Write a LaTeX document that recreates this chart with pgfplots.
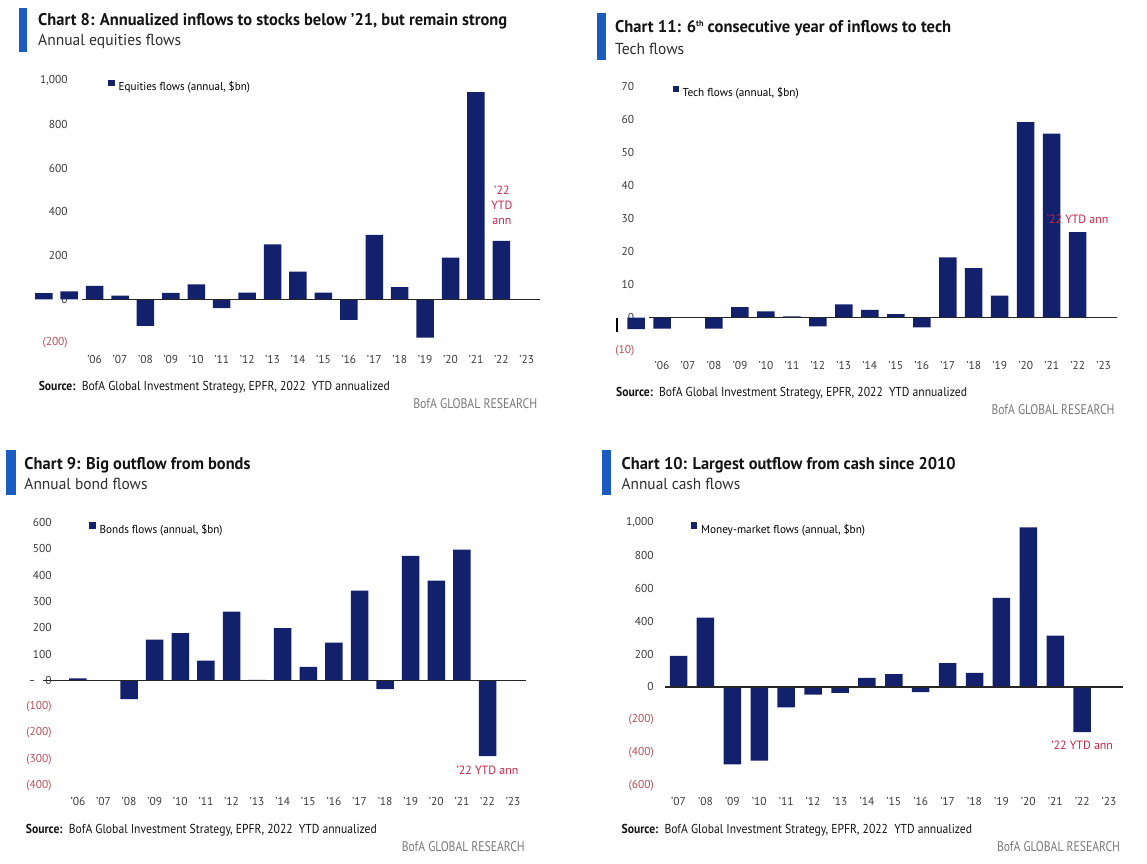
\documentclass[border=0pt]{standalone}
\usepackage{pgfplots}
\pgfplotsset{compat=1.18}
\usepackage{graphicx}
\usepackage{fontspec}
\setmainfont{PT Sans}
\definecolor{navy}{HTML}{13216C}
\definecolor{accent}{HTML}{1A5CC0}
\definecolor{negred}{HTML}{B5505C}
\definecolor{annred}{HTML}{C02848}
\definecolor{tickgray}{HTML}{3C3C3C}
\definecolor{titleblack}{HTML}{141414}
\definecolor{subgray}{HTML}{2E2E2E}
\definecolor{bofagray}{HTML}{7A7A7A}
\newcommand\fitw[2]{\resizebox{#1}{\height}{#2}}
\newcommand\negl[1]{\textcolor{negred}{#1}}
\pgfplotsset{
  bofa/.style={
    scale only axis, clip=false,
    axis x line*=bottom, axis y line*=left,
    axis line style={draw=none},
    major tick length=0pt,
    ticklabel style={font=\fontsize{11.5}{12}\selectfont, text=tickgray, inner sep=0pt},
    xticklabel style={anchor=center},
    yticklabel style={anchor=east},
    legend style={draw=none, fill=none, inner sep=0pt, anchor=west,
      column sep=4bp, nodes={inner sep=0pt}, font=\fontsize{11.5}{12}\selectfont},
    legend cell align=left,
  },
  navybar/.style={ybar, bar width=17.5bp, fill=navy, draw=none,
    legend image code/.code={\fill[navy] (0bp,0.6bp) rectangle (6.2bp,7.4bp);}},
}
\begin{document}
\begin{tikzpicture}[x=1bp,y=1bp]
\useasboundingbox (0,0) rectangle (1147,864);
\fill[white] (0,0) rectangle (1147,864);

% ---------------- Panel 1 (Chart 8) ----------------
\fill[accent] (19,812) rectangle (27,856);
\node[anchor=base west, inner sep=0, text=titleblack] at (38,838)
  {\fitw{469bp}{\fontsize{17}{17}\selectfont\bfseries Chart 8: Annualized inflows to stocks below ’21, but remain strong}};
\node[anchor=base west, inner sep=0, text=subgray] at (38,818)
  {\fitw{143bp}{\fontsize{16}{16}\selectfont Annual equities flows}};
\node[anchor=base west, inner sep=0, text=titleblack] at (38.6,473.3)
  {\fitw{351bp}{\fontsize{13}{13}\selectfont\textbf{Source:}\ \ BofA Global Investment Strategy, EPFR, 2022\ \ YTD annualized}};
\node[anchor=base east, inner sep=0, text=bofagray] at (537.5,455)
  {\fitw{124bp}{\fontsize{14}{14}\selectfont BofA GLOBAL RESEARCH}};

\begin{axis}[bofa, at={(81.9bp,521bp)}, anchor=south west,
  width=457.6bp, height=262.3bp,
  xmin=-0.5, xmax=17.5, ymin=-200, ymax=1000,
  xtick={0,...,17},
  xticklabels={’06,’07,’08,’09,’10,’11,’12,’13,’14,’15,’16,’17,’18,’19,’20,’21,’22,’23},
  ytick={-200,0,200,400,600,800,1000},
  yticklabels={\negl{(200)},0,200,400,600,800,{1,000}},
  xticklabel style={yshift=-16.3bp},
  yticklabel style={xshift=-14bp},
  legend style={at={(0.0575,0.980)}},
]
\addplot[navybar] coordinates {(-2,28) (-1,36) (0,61) (1,17) (2,-122) (3,29) (4,68) (5,-40) (6,30) (7,251) (8,126) (9,30) (10,-94) (11,295) (12,56) (13,-175) (14,190) (15,948) (16,267)};
\addlegendentry{\fitw{131.4bp}{Equities flows (annual, \$bn)}}
\draw[black!85, line width=1.3bp] (axis cs:-0.5,0) -- (axis cs:17.5,0);
\node[align=center, text=annred, font=\fontsize{12}{15.5}\selectfont] at (axis cs:16.02,430) {’22\\YTD\\ann};
\end{axis}

% ---------------- Panel 2 (Chart 11) ----------------
\fill[accent] (596.5,804) rectangle (606,851);
\node[anchor=base west, inner sep=0, text=titleblack] at (615,831)
  {\fitw{336bp}{\fontsize{17}{17}\selectfont\bfseries Chart 11: 6\raisebox{6bp}{\fontsize{8.5}{8.5}\selectfont th} consecutive year of inflows to tech}};
\node[anchor=base west, inner sep=0, text=subgray] at (615,809)
  {\fitw{69bp}{\fontsize{16}{16}\selectfont Tech flows}};
\node[anchor=base west, inner sep=0, text=titleblack] at (616,467)
  {\fitw{350.8bp}{\fontsize{13}{13}\selectfont\textbf{Source:}\ \ BofA Global Investment Strategy, EPFR, 2022\ \ YTD annualized}};
\node[anchor=base east, inner sep=0, text=bofagray] at (1114.7,449)
  {\fitw{123bp}{\fontsize{14}{14}\selectfont BofA GLOBAL RESEARCH}};

\begin{axis}[bofa, at={(649bp,513.3bp)}, anchor=south west,
  width=467.6bp, height=264bp,
  xmin=-0.5, xmax=17.5, ymin=-10, ymax=70,
  xtick={0,...,17},
  xticklabels={’06,’07,’08,’09,’10,’11,’12,’13,’14,’15,’16,’17,’18,’19,’20,’21,’22,’23},
  ytick={-10,0,10,20,30,40,50,60,70},
  yticklabels={\negl{(10)},0,10,20,30,40,50,60,70},
  xticklabel style={yshift=-15bp},
  yticklabel style={xshift=-14.6bp},
  legend style={at={(0.0498,0.980)}},
]
\addplot[navybar] coordinates {(-1,-3.5) (0,-3.3) (1,0) (2,-3.3) (3,3.2) (4,1.9) (5,0.4) (6,-2.6) (7,4.0) (8,2.4) (9,1.1) (10,-2.9) (11,18.3) (12,15.0) (13,6.7) (14,59.3) (15,55.8) (16,25.9)};
\addlegendentry{\fitw{116bp}{Tech flows (annual, \$bn)}}
\addplot[ybar, bar width=2bp, fill=black, draw=none, forget plot] coordinates {(-1.73,-4.3)};
\draw[black!85, line width=1.3bp] (axis cs:-0.5,0) -- (axis cs:17.5,0);
\node[text=annred, font=\fontsize{12}{12}\selectfont] at (axis cs:16,29.8) {’22 YTD ann};
\end{axis}

% ---------------- Panel 3 (Chart 9) ----------------
\fill[accent] (6.4,369) rectangle (16,414);
\node[anchor=base west, inner sep=0, text=titleblack] at (24.3,394.7)
  {\fitw{226bp}{\fontsize{17}{17}\selectfont\bfseries Chart 9: Big outflow from bonds}};
\node[anchor=base west, inner sep=0, text=subgray] at (24.3,374)
  {\fitw{123bp}{\fontsize{16}{16}\selectfont Annual bond flows}};
\node[anchor=base west, inner sep=0, text=titleblack] at (25.7,30)
  {\fitw{351bp}{\fontsize{13}{13}\selectfont\textbf{Source:}\ \ BofA Global Investment Strategy, EPFR, 2022\ \ YTD annualized}};
\node[anchor=base east, inner sep=0, text=bofagray] at (525,12.3)
  {\fitw{123bp}{\fontsize{14}{14}\selectfont BofA GLOBAL RESEARCH}};

\begin{axis}[bofa, at={(65.1bp,78.3bp)}, anchor=south west,
  width=460.8bp, height=263bp,
  xmin=-0.5, xmax=17.5, ymin=-400, ymax=600,
  xtick={0,...,17},
  xticklabels={’06,’07,’08,’09,’10,’11,’12,’13,’14,’15,’16,’17,’18,’19,’20,’21,’22,’23},
  ytick={-400,-300,-200,-100,0,100,200,300,400,500,600},
  yticklabels={\negl{(400)},\negl{(300)},\negl{(200)},\negl{(100)},0,100,200,300,400,500,600},
  xticklabel style={yshift=-16bp},
  yticklabel style={xshift=-13.3bp},
  legend style={at={(0.0525,0.978)}},
]
\addplot[navybar] coordinates {(0,8) (1,1) (2,-71) (3,155) (4,180) (5,76) (6,262) (7,2) (8,199) (9,52) (10,144) (11,342) (12,-33) (13,474) (14,380) (15,498) (16,-288)};
\addlegendentry{\fitw{122.9bp}{Bonds flows (annual, \$bn)}}
\draw[black!85, line width=1.3bp] (axis cs:-1.36,0) -- (axis cs:17.5,0);
\draw[black!70, line width=1bp] (axis cs:-1.87,0) -- (axis cs:-1.71,0);
\node[text=annred, font=\fontsize{12}{12}\selectfont] at (axis cs:16,-342) {’22 YTD ann};
\end{axis}

% ---------------- Panel 4 (Chart 10) ----------------
\fill[accent] (602.4,369) rectangle (611.2,414);
\node[anchor=base west, inner sep=0, text=titleblack] at (621.5,394.7)
  {\fitw{334bp}{\fontsize{17}{17}\selectfont\bfseries Chart 10: Largest outflow from cash since 2010}};
\node[anchor=base west, inner sep=0, text=subgray] at (621.5,374)
  {\fitw{118.5bp}{\fontsize{16}{16}\selectfont Annual cash flows}};
\node[anchor=base west, inner sep=0, text=titleblack] at (621.5,30)
  {\fitw{350.4bp}{\fontsize{13}{13}\selectfont\textbf{Source:}\ \ BofA Global Investment Strategy, EPFR, 2022\ \ YTD annualized}};
\node[anchor=base east, inner sep=0, text=bofagray] at (1120.2,12.3)
  {\fitw{123bp}{\fontsize{14}{14}\selectfont BofA GLOBAL RESEARCH}};

\begin{axis}[bofa, at={(665.1bp,78.3bp)}, anchor=south west,
  width=457.4bp, height=263.4bp,
  xmin=-0.5, xmax=16.5, ymin=-600, ymax=1000,
  xtick={0,...,16},
  xticklabels={’07,’08,’09,’10,’11,’12,’13,’14,’15,’16,’17,’18,’19,’20,’21,’22,’23},
  ytick={-600,-400,-200,0,200,400,600,800,1000},
  yticklabels={\negl{(600)},\negl{(400)},\negl{(200)},0,200,400,600,800,{1,000}},
  xticklabel style={yshift=-16bp},
  yticklabel style={xshift=-11.2bp},
  legend style={at={(0.056,0.9765)}},
]
\addplot[navybar] coordinates {(0,188) (1,421) (2,-470) (3,-448) (4,-124) (5,-47) (6,-36) (7,55) (8,77) (9,-32) (10,144) (11,85) (12,541) (13,969) (14,312) (15,-274)};
\addlegendentry{\fitw{164bp}{Money-market flows (annual, \$bn)}}
\draw[black!85, line width=1.3bp] (axis cs:-0.5,0) -- (axis cs:16.5,0);
\node[text=annred, font=\fontsize{12}{12}\selectfont] at (axis cs:15,-352) {’22 YTD ann};
\end{axis}
\end{tikzpicture}
\end{document}
